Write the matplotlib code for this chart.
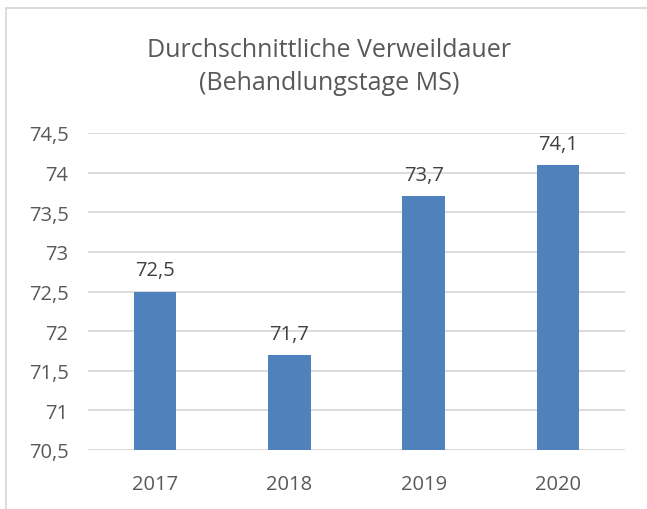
import matplotlib
matplotlib.use("Agg")
import matplotlib.pyplot as plt
from matplotlib.lines import Line2D

years = ["2017", "2018", "2019", "2020"]
values = [72.5, 71.7, 73.7, 74.1]
value_labels = ["72,5", "71,7", "73,7", "74,1"]
yticks = [70.5, 71, 71.5, 72, 72.5, 73, 73.5, 74, 74.5]
ytick_labels = ["70,5", "71", "71,5", "72", "72,5", "73", "73,5", "74", "74,5"]
title = "Durchschnittliche Verweildauer\n(Behandlungstage MS)"

W, H = 647, 510
fig = plt.figure(figsize=(W / 100, H / 100), dpi=100)
plt.rcParams['font.family'] = ['Open Sans', 'DejaVu Sans']

left, right = 88 / W, 625 / W
bottom, top = 1 - 451 / H, 1 - 134 / H
ax = fig.add_axes([left, bottom, right - left, top - bottom])

x = range(len(years))
ax.bar(x, [v - 70.5 for v in values], bottom=70.5, width=0.317, color="#4f81bd", zorder=3)
ax.set_xlim(-0.5, len(years) - 0.5)
ax.set_ylim(70.5, 74.5)
ax.set_yticks(yticks)
ax.set_yticklabels(ytick_labels)
ax.set_xticks(list(x))
ax.set_xticklabels(years)
ax.tick_params(axis='both', length=0, labelsize=14.5, colors="#595959")
ax.tick_params(axis='y', pad=14)
ax.tick_params(axis='x', pad=17)
ax.yaxis.grid(True, color="#d9d9d9", linewidth=1.3, zorder=0)
for s in ax.spines.values():
    s.set_visible(False)

for xi, v, lab in zip(x, values, value_labels):
    ax.annotate(lab, (xi, v), xytext=(0, 8), textcoords="offset points",
                ha="center", va="bottom", fontsize=14.5, color="#404040")

fig.text(329 / W, 1 - 67 / H, title, ha="center", va="center",
         fontsize=18, color="#595959", linespacing=1.42)

fig.add_artist(Line2D([5.5 / W, 5.5 / W], [0, 1 - 9 / H], color="#d9d9d9", linewidth=1.3))
fig.add_artist(Line2D([5.5 / W, 1], [1 - 9 / H, 1 - 9 / H], color="#d9d9d9", linewidth=1.3))

fig.savefig("out.png", dpi=100)
